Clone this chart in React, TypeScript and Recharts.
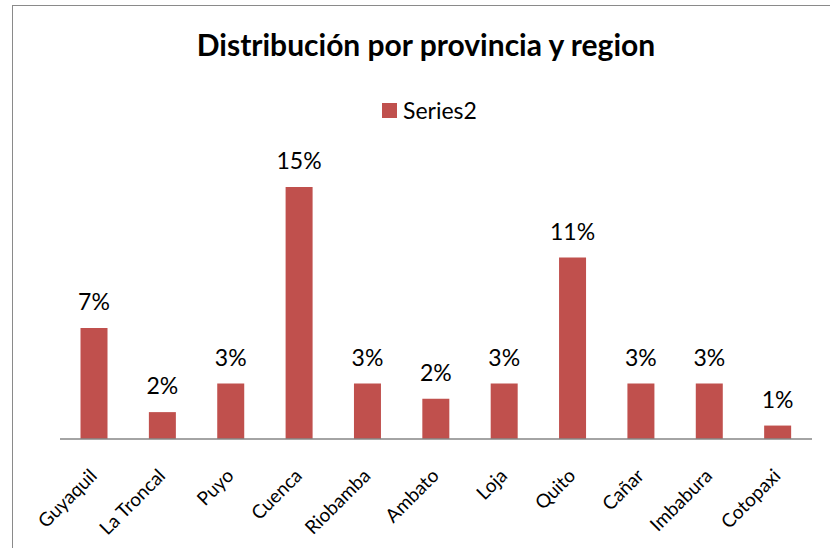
import { BarChart, Bar, XAxis, YAxis, LabelList } from "recharts";

const provincias = [
  "Guyaquil",
  "La Troncal",
  "Puyo",
  "Cuenca",
  "Riobamba",
  "Ambato",
  "Loja",
  "Quito",
  "Cañar",
  "Imbabura",
  "Cotopaxi",
];

const series2 = [0.066, 0.016, 0.033, 0.15, 0.033, 0.024, 0.033, 0.108, 0.033, 0.033, 0.008];

const data = provincias.map((name, i) => ({ name, Series2: series2[i] }));

const BAR_COLOR = "#C0504D";

function RotatedTick(props: any) {
  const { x, y, payload } = props;
  return (
    <text
      transform={`translate(${x + 4},${y + 30}) rotate(-45)`}
      textAnchor="end"
      fontFamily="Lato"
      fontSize={19}
      fill="#000"
    >
      {payload.value}
    </text>
  );
}

export default function App() {
  return (
    <div
      style={{
        position: "absolute",
        left: 0,
        top: 0,
        width: 830,
        height: 548,
        overflow: "hidden",
        background: "#fff",
      }}
    >
      <div
        style={{
          position: "absolute",
          left: 12,
          top: 5,
          width: 840,
          height: 560,
          border: "1.5px solid #8a8a8a",
        }}
      />
      <div
        style={{
          position: "absolute",
          left: 0,
          width: 852,
          top: 26,
          textAlign: "center",
          fontFamily: "Lato",
          fontWeight: 700,
          fontSize: 30,
          lineHeight: "36px",
          color: "#000",
        }}
      >
        Distribución por provincia y region
      </div>
      {/* leyenda */}
      <div
        style={{
          position: "absolute",
          left: 382,
          top: 96,
          display: "flex",
          alignItems: "center",
          fontFamily: "Lato",
          fontSize: 23,
          lineHeight: "28px",
          color: "#000",
        }}
      >
        <span style={{ width: 15, height: 15, background: BAR_COLOR, marginRight: 6 }} />
        <span>Series2</span>
      </div>
      <div style={{ position: "absolute", left: 0, top: 0 }}>
        <BarChart
          width={830}
          height={548}
          data={data}
          margin={{ top: 103, right: 18, bottom: 9, left: 60 }}
          barCategoryGap="30%"
        >
          <YAxis hide domain={[0, 0.2]} />
          <XAxis
            dataKey="name"
            interval={0}
            height={100}
            tickLine={false}
            axisLine={{ stroke: "#868686", strokeWidth: 1.5 }}
            tick={<RotatedTick />}
          />
          <Bar dataKey="Series2" fill={BAR_COLOR} isAnimationActive={false}>
            <LabelList
              dataKey="Series2"
              position="top"
              offset={18}
              formatter={(v: any) => `${Math.round(Number(v) * 100)}%`}
              style={{ fontFamily: "Lato", fontSize: 23, fill: "#000" }}
            />
          </Bar>
        </BarChart>
      </div>
    </div>
  );
}
